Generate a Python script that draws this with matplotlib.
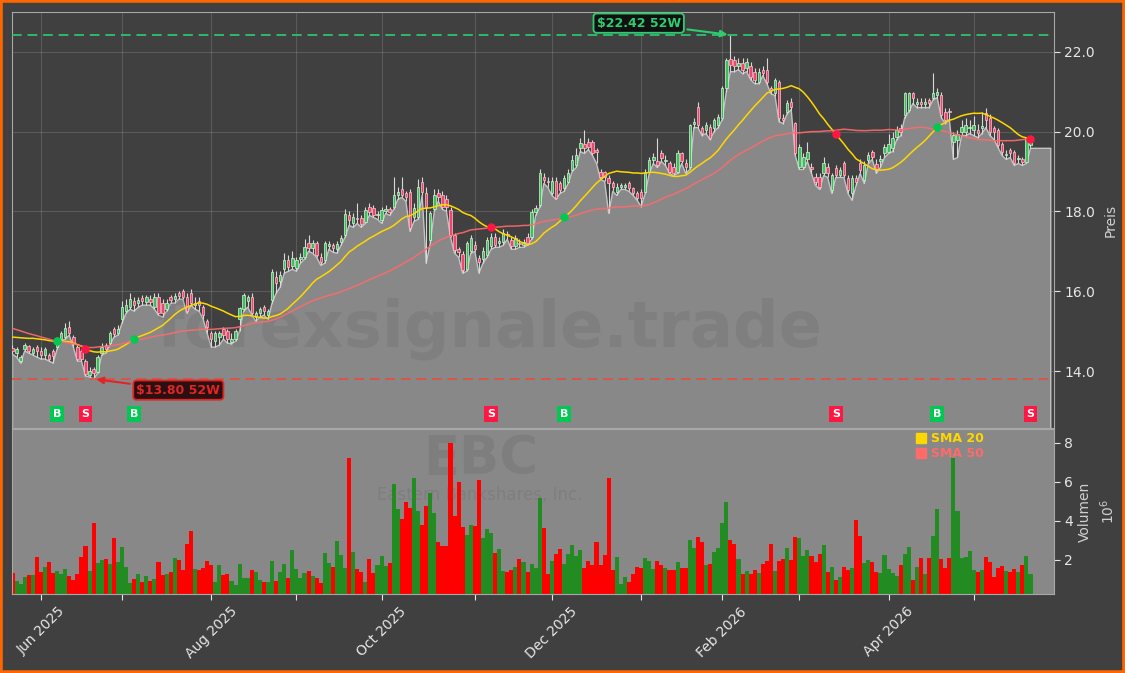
import numpy as np
import pandas as pd
import matplotlib
matplotlib.use("Agg")
import matplotlib.pyplot as plt
from matplotlib.lines import Line2D
from matplotlib.patches import Rectangle
from matplotlib.ticker import MultipleLocator, FuncFormatter
import matplotlib.transforms as mtransforms

# ---------------- data ----------------
ticker = "EBC"
company = "Eastern Bankshares, Inc."
holidays = ["2025-05-26", "2025-06-19", "2025-07-04", "2025-09-01", "2025-11-27",
            "2025-12-25", "2026-01-01", "2026-01-19", "2026-02-16", "2026-04-03"]
dates = pd.bdate_range("2025-05-21", "2026-05-21", freq="C", holidays=holidays)

opens = [
    14.58, 14.45, 14.25, 14.55, 14.62, 14.45, 14.60, 14.50, 14.40, 14.40,
    14.50, 14.60, 14.80, 14.85, 15.10, 14.85, 14.60, 14.50, 14.25, 13.90,
    14.05, 13.98, 14.45, 14.65, 14.70, 15.05, 14.95, 15.30, 15.50, 15.60,
    15.75, 15.70, 15.82, 15.72, 15.80, 15.60, 15.85, 15.70, 15.55, 15.85,
    15.80, 15.95, 16.00, 15.85, 15.95, 15.65, 15.75, 15.60, 15.25, 14.95,
    14.75, 14.85, 15.05, 15.00, 14.72, 14.80, 15.30, 15.55, 15.75, 15.85,
    15.35, 15.45, 15.60, 15.40, 15.78, 16.36, 16.25, 16.55, 16.78, 16.62,
    16.58, 16.80, 16.86, 17.20, 17.07, 17.20, 16.86, 16.78, 17.14, 17.16,
    17.05, 17.24, 17.41, 17.91, 17.70, 17.84, 17.83, 17.74, 18.10, 18.09,
    17.90, 17.78, 18.02, 18.06, 18.12, 18.41, 18.55, 18.45, 18.49, 17.87,
    17.87, 18.74, 18.45, 17.28, 18.05, 18.45, 18.41, 18.30, 18.03, 17.41,
    17.05, 16.93, 16.55, 17.00, 17.16, 16.82, 16.80, 16.91, 17.12, 17.37,
    17.22, 17.24, 17.42, 17.28, 17.12, 17.20, 17.16, 17.37, 17.37, 17.99,
    18.16, 18.87, 18.76, 18.45, 18.77, 18.70, 18.58, 18.74, 19.04, 19.16,
    19.60, 19.70, 19.75, 19.75, 19.54, 18.99, 18.99, 18.83, 18.70, 18.49,
    18.60, 18.62, 18.70, 18.58, 18.45, 18.49, 18.49, 18.99, 19.29, 19.25,
    19.45, 19.25, 19.20, 19.12, 18.99, 19.45, 19.20, 19.12, 20.20, 20.62,
    20.08, 20.04, 20.12, 20.08, 20.16, 20.33, 21.08, 21.83, 21.79, 21.63,
    21.71, 21.60, 21.63, 21.50, 21.25, 21.54, 21.54, 21.08, 20.96, 21.25,
    20.33, 20.50, 20.75, 20.21, 19.12, 19.12, 19.30, 19.10, 18.87, 18.87,
    18.95, 19.12, 18.54, 19.08, 18.91, 19.20, 18.83, 18.45, 18.83, 19.22,
    18.78, 19.29, 19.50, 19.19, 19.25, 19.45, 19.50, 19.58, 19.87, 20.08,
    20.41, 20.54, 20.96, 20.70, 20.72, 20.70, 20.79, 20.85, 20.92, 20.92,
    20.50, 20.50, 19.75, 19.79, 20.00, 20.00, 20.08, 20.04, 20.04, 20.10,
    20.46, 20.33, 20.08, 20.04, 19.70, 19.40, 19.54, 19.50, 19.30, 19.30,
    19.24, 19.66,
]
closes = [
    14.50, 14.55, 14.35, 14.65, 14.50, 14.55, 14.50, 14.40, 14.55, 14.30,
    14.38, 14.78, 14.95, 15.07, 14.95, 14.70, 14.30, 14.30, 13.92, 14.00,
    13.95, 14.35, 14.60, 14.55, 14.95, 14.92, 15.05, 15.60, 15.65, 15.80,
    15.65, 15.78, 15.75, 15.85, 15.72, 15.85, 15.45, 15.45, 15.70, 15.78,
    15.88, 15.88, 15.85, 15.50, 15.70, 15.70, 15.65, 15.40, 15.10, 14.80,
    14.95, 14.95, 14.90, 14.80, 14.80, 15.00, 15.58, 15.90, 15.85, 15.45,
    15.45, 15.55, 15.50, 15.50, 16.49, 16.20, 16.40, 16.78, 16.61, 16.82,
    16.78, 16.86, 17.11, 17.07, 17.20, 16.90, 16.74, 17.20, 17.18, 17.07,
    17.18, 17.33, 17.93, 17.78, 17.85, 17.80, 17.68, 18.03, 17.99, 17.90,
    17.93, 18.03, 18.05, 17.99, 18.41, 18.49, 18.41, 18.37, 17.58, 18.08,
    18.62, 18.49, 18.10, 17.95, 18.40, 18.35, 18.12, 18.10, 17.41, 17.03,
    16.97, 16.53, 17.20, 17.33, 17.05, 16.72, 17.00, 17.28, 17.37, 17.16,
    17.24, 17.45, 17.40, 17.12, 17.33, 17.18, 17.24, 17.20, 17.99, 18.08,
    18.95, 18.79, 18.74, 18.77, 18.33, 18.54, 18.83, 18.95, 19.29, 19.40,
    19.71, 19.60, 19.62, 19.45, 19.50, 18.87, 18.87, 18.70, 18.62, 18.62,
    18.65, 18.66, 18.58, 18.45, 18.33, 18.33, 18.99, 19.29, 19.37, 19.16,
    19.33, 19.27, 18.99, 18.95, 19.45, 19.25, 19.10, 20.16, 20.25, 20.16,
    19.96, 20.16, 19.83, 20.29, 20.37, 21.08, 21.79, 21.67, 21.63, 21.72,
    21.54, 21.75, 21.37, 21.29, 21.50, 21.46, 21.25, 21.04, 21.29, 20.33,
    20.29, 20.71, 20.62, 19.45, 19.62, 19.37, 19.50, 19.05, 18.74, 18.62,
    19.20, 18.95, 18.91, 18.91, 19.04, 18.91, 18.54, 18.83, 18.74, 19.04,
    19.16, 19.41, 19.37, 19.04, 19.30, 19.62, 19.70, 19.83, 20.04, 20.00,
    20.96, 20.97, 20.83, 20.72, 20.70, 20.73, 20.71, 20.96, 21.00, 20.41,
    20.29, 20.48, 19.91, 19.94, 20.12, 20.16, 20.10, 20.16, 19.96, 20.12,
    20.29, 20.00, 20.00, 19.66, 19.50, 19.43, 19.45, 19.20, 19.32, 19.24,
    19.83, 19.79,
]
highs = [
    14.65, 14.60, 14.40, 14.70, 14.65, 14.60, 14.65, 14.60, 14.60, 14.45,
    14.55, 14.85, 15.00, 15.20, 15.25, 14.90, 14.65, 14.55, 14.30, 14.10,
    14.10, 14.40, 14.70, 14.70, 15.00, 15.10, 15.15, 15.75, 15.80, 15.95,
    15.85, 15.85, 15.90, 15.90, 15.90, 15.95, 15.95, 15.80, 15.80, 15.90,
    15.95, 16.00, 16.05, 15.95, 16.05, 15.85, 15.85, 15.65, 15.30, 15.00,
    15.00, 15.00, 15.10, 15.05, 14.95, 15.05, 15.60, 15.95, 15.90, 15.95,
    15.50, 15.60, 15.65, 15.55, 16.55, 16.50, 16.50, 16.95, 16.90, 17.00,
    16.85, 16.95, 17.30, 17.40, 17.28, 17.25, 16.95, 17.25, 17.25, 17.22,
    17.25, 17.40, 18.05, 18.00, 17.95, 18.20, 17.90, 18.10, 18.20, 18.15,
    18.00, 18.10, 18.15, 18.10, 18.87, 18.60, 18.85, 18.50, 18.55, 18.20,
    18.80, 18.85, 18.60, 18.00, 18.55, 18.55, 18.50, 18.40, 18.10, 17.45,
    17.10, 17.00, 17.25, 17.40, 17.25, 16.90, 17.10, 17.35, 17.45, 17.45,
    17.35, 17.55, 17.50, 17.35, 17.40, 17.30, 17.30, 17.45, 18.05, 18.15,
    19.05, 18.95, 18.85, 18.85, 18.85, 18.75, 18.90, 19.05, 19.40, 19.60,
    19.85, 20.04, 19.85, 19.80, 19.60, 19.05, 19.00, 18.90, 18.75, 18.70,
    18.70, 18.72, 18.75, 18.62, 18.50, 18.55, 19.05, 19.35, 19.45, 19.83,
    19.55, 19.40, 19.25, 19.20, 19.55, 19.50, 19.30, 20.20, 20.35, 20.75,
    20.15, 20.25, 20.20, 20.35, 20.45, 21.15, 21.85, 22.42, 21.90, 21.85,
    21.85, 21.85, 21.75, 21.60, 21.60, 21.65, 21.85, 21.15, 21.35, 21.30,
    20.45, 20.80, 20.85, 20.25, 19.70, 19.45, 19.75, 19.20, 18.95, 18.95,
    19.35, 19.20, 18.95, 19.15, 19.10, 19.25, 18.90, 18.90, 18.90, 19.30,
    19.25, 19.50, 19.55, 19.30, 19.40, 19.70, 19.95, 20.00, 20.15, 20.20,
    21.00, 21.00, 21.00, 20.85, 20.85, 20.85, 20.85, 21.47, 21.10, 21.00,
    20.60, 20.60, 20.00, 20.05, 20.30, 20.35, 20.30, 20.40, 20.20, 20.50,
    20.60, 20.45, 20.15, 20.10, 19.75, 19.55, 19.60, 19.55, 19.40, 19.35,
    19.85, 19.85,
]
lows = [
    14.42, 14.35, 14.20, 14.50, 14.45, 14.40, 14.35, 14.30, 14.30, 14.25,
    14.20, 14.55, 14.75, 14.80, 14.90, 14.60, 14.25, 14.25, 13.88, 13.85,
    13.80, 13.95, 14.40, 14.45, 14.65, 14.85, 14.90, 15.20, 15.45, 15.55,
    15.50, 15.60, 15.65, 15.65, 15.65, 15.55, 15.40, 15.35, 15.50, 15.70,
    15.70, 15.80, 15.80, 15.45, 15.65, 15.55, 15.50, 15.30, 14.95, 14.60,
    14.60, 14.65, 14.80, 14.70, 14.68, 14.75, 15.00, 15.50, 15.60, 15.40,
    15.25, 15.35, 15.40, 15.30, 15.70, 15.95, 16.10, 16.45, 16.50, 16.55,
    16.50, 16.70, 16.80, 17.00, 16.95, 16.85, 16.65, 16.70, 17.05, 16.98,
    16.95, 17.15, 17.35, 17.65, 17.60, 17.70, 17.60, 17.70, 17.90, 17.85,
    17.80, 17.70, 17.95, 17.90, 18.05, 18.30, 18.35, 18.25, 17.50, 17.75,
    17.80, 18.40, 16.70, 17.20, 18.00, 18.25, 18.05, 18.00, 17.35, 16.95,
    16.85, 16.45, 16.50, 16.95, 17.00, 16.45, 16.70, 16.85, 17.05, 17.10,
    17.10, 17.15, 17.30, 17.05, 17.05, 17.10, 17.10, 17.15, 17.30, 17.90,
    18.10, 18.70, 18.60, 18.40, 18.30, 18.45, 18.50, 18.70, 19.00, 19.10,
    19.50, 19.45, 19.55, 19.40, 19.20, 18.80, 18.75, 17.95, 18.50, 18.40,
    18.55, 18.55, 18.50, 18.40, 18.28, 18.12, 18.45, 18.95, 19.20, 19.10,
    19.25, 19.15, 18.95, 18.90, 18.95, 19.20, 18.95, 19.05, 20.10, 20.10,
    19.90, 19.95, 19.80, 20.00, 20.10, 20.30, 21.00, 21.50, 21.50, 21.55,
    21.45, 21.50, 21.30, 21.20, 21.20, 21.40, 21.20, 20.95, 20.90, 20.25,
    20.20, 20.45, 20.55, 19.40, 19.05, 19.05, 19.25, 18.95, 18.65, 18.55,
    18.90, 18.85, 18.45, 18.85, 18.85, 18.85, 18.45, 18.28, 18.65, 18.95,
    18.70, 19.20, 19.30, 18.95, 19.10, 19.35, 19.45, 19.50, 19.80, 19.90,
    20.35, 20.50, 20.70, 20.60, 20.60, 20.60, 20.60, 20.80, 20.85, 20.35,
    20.20, 20.30, 19.30, 19.35, 19.90, 19.90, 19.95, 19.90, 19.85, 19.95,
    20.10, 19.90, 19.80, 19.60, 19.40, 19.30, 19.35, 19.15, 19.20, 19.15,
    19.20, 19.58,
]
volumes_m = [
    1.33, 0.91, 0.77, 1.13, 1.23, 1.23, 2.15, 1.37, 1.62, 1.90,
    1.33, 1.42, 1.30, 1.54, 1.16, 0.99, 1.28, 2.15, 2.73, 1.42,
    3.89, 1.84, 2.00, 2.05, 1.81, 3.12, 1.90, 2.66, 1.64, 0.82,
    1.03, 1.28, 0.87, 1.18, 0.91, 1.03, 1.90, 1.25, 1.28, 1.38,
    2.10, 2.00, 1.49, 2.82, 3.48, 1.54, 1.49, 1.59, 1.93, 1.76,
    0.87, 1.74, 1.25, 1.28, 0.94, 0.72, 1.79, 1.08, 1.08, 1.49,
    1.38, 0.97, 0.87, 0.87, 1.93, 0.92, 1.38, 1.79, 1.08, 2.51,
    1.54, 1.08, 1.33, 1.44, 1.18, 1.08, 0.82, 2.36, 1.84, 1.64,
    2.95, 2.25, 1.59, 7.22, 2.41, 1.54, 1.38, 0.87, 2.05, 1.33,
    1.74, 2.20, 1.69, 1.84, 5.89, 4.61, 4.10, 4.97, 4.66, 6.19,
    4.50, 3.79, 4.76, 5.42, 4.40, 2.92, 2.71, 2.71, 7.98, 4.25,
    5.99, 3.69, 3.28, 3.79, 3.74, 6.09, 3.12, 3.58, 3.38, 2.36,
    2.56, 1.44, 1.38, 1.49, 1.64, 2.05, 1.90, 1.38, 1.79, 1.59,
    5.17, 3.64, 1.28, 1.93, 2.30, 2.56, 1.79, 2.30, 2.77, 2.20,
    2.51, 1.59, 1.95, 1.74, 2.92, 1.74, 2.25, 6.19, 1.49, 2.15,
    0.77, 1.13, 0.87, 1.28, 1.64, 1.59, 2.10, 1.95, 1.54, 1.95,
    1.74, 1.59, 1.49, 1.49, 1.90, 1.59, 1.60, 3.00, 2.60, 3.17,
    2.90, 1.75, 1.80, 2.40, 2.60, 3.90, 4.95, 3.00, 2.80, 2.05,
    1.30, 1.45, 1.30, 1.50, 1.35, 1.80, 1.95, 2.80, 1.45, 1.95,
    2.05, 2.60, 2.00, 3.15, 3.10, 2.20, 2.50, 2.20, 1.90, 2.30,
    2.75, 1.40, 1.65, 0.95, 1.15, 1.65, 1.50, 1.60, 4.05, 3.20,
    1.85, 2.00, 1.90, 1.40, 1.35, 2.25, 1.55, 1.35, 1.20, 1.75,
    2.30, 2.65, 0.95, 1.65, 2.10, 1.30, 2.10, 3.20, 4.60, 2.05,
    1.60, 2.10, 7.20, 4.50, 2.10, 2.15, 2.45, 1.50, 1.40, 1.50,
    2.15, 1.90, 1.15, 1.60, 1.70, 1.45, 1.40, 1.55, 1.40, 1.75,
    2.20, 1.30,
]
# closes of the 49 sessions before the window (read from the starting level of the SMA lines)
prior_closes = [
    16.20, 16.10, 16.25, 16.00, 15.90, 15.85, 16.05, 15.80, 15.75, 15.90,
    15.65, 15.90, 15.80, 15.75, 15.60, 15.70, 15.50, 15.45, 14.60, 13.90,
    13.70, 14.10, 14.30, 14.15, 14.40, 14.25, 14.50, 14.35, 14.45, 14.60,
    14.70, 14.55, 14.80, 14.65, 14.50, 14.75, 14.60, 14.85, 14.70, 14.65,
    14.75, 15.00, 15.20, 15.15, 15.30, 15.10, 15.05, 15.20, 15.00,
]
buy_idx = [11, 30, 136, 228]
sell_idx = [18, 118, 203, 251]

N = len(closes)
assert len(opens) == N and len(highs) == N and len(lows) == N and len(volumes_m) == N == len(dates)

o = np.array(opens); c = np.array(closes); h = np.array(highs); l = np.array(lows)
v = np.array(volumes_m)
x = np.arange(N)

full = pd.Series(prior_closes + closes)
sma20 = full.rolling(20).mean().to_numpy()[len(prior_closes):]
sma50 = full.rolling(50).mean().to_numpy()[len(prior_closes):]

high_52w = h.max(); hi_i = int(h.argmax())
low_52w = l.min(); lo_i = int(l.argmin())

# ---------------- style ----------------
BG = "#404040"
FILLC = "#888888"
TXT = "#e6e6e6"
UP_FACE, UP_EDGE = "#3fbf5c", "#d6f5da"
DN_FACE, DN_EDGE = "#f0466a", "#ffc4d0"
GOLD = "#FFD700"
SMA50C = "#FF6B6B"

fig = plt.figure(figsize=(11.25, 6.73), dpi=100, facecolor=BG)
ax = fig.add_axes([0.0111, 0.364, 0.9258, 0.6177])
axv = fig.add_axes([0.0111, 0.1174, 0.9258, 0.2452])
ax.set_facecolor(BG)
axv.set_facecolor(FILLC)

xmax = N + 4.8
ax.set_xlim(0, xmax)
axv.set_xlim(0, xmax)
ax.set_ylim(low_52w * 0.911, high_52w * 1.0253)
axv.set_ylim(0.26, v.max() * 1.09)

# month ticks
month_first = [i for i in range(1, N) if dates[i].month != dates[i - 1].month]
labels = [dates[i].strftime("%b %Y") if dates[i].month % 2 == 0 else "" for i in month_first]

# grey area under lows (extended to the right)
xf = np.append(x, N + 4).astype(float)
lf = np.append(l, l[-1])
ax.fill_between(xf, lf, 0, facecolor=FILLC, edgecolor="#c4c4c4", linewidth=1.0, zorder=2)

# watermark
ax.text(0.458, 0.24, "forexsignale.trade", transform=ax.transAxes, ha="center", va="center",
        fontsize=46, fontweight="bold", color="#3a3a3a", alpha=0.11, zorder=2.5)

# candles
up = c >= o
ax.vlines(x, l, h, color="#d8d8d8", linewidth=0.8, zorder=3)
body_lo = np.minimum(o, c)
body_h = np.maximum(np.abs(c - o), 0.03)
ax.bar(x, body_h, bottom=body_lo, width=0.6,
       color=np.where(up, UP_FACE, DN_FACE), edgecolor=np.where(up, UP_EDGE, DN_EDGE),
       linewidth=0.5, zorder=4)

# SMAs
ax.plot(x, sma20, color=GOLD, linewidth=1.1, zorder=5)
ax.plot(x, sma50, color=SMA50C, linewidth=1.1, alpha=0.9, zorder=5)
ax.scatter(buy_idx, sma20[buy_idx], s=26, color="#00C853", zorder=6)
ax.scatter(sell_idx, sma20[sell_idx], s=26, color="#FF1744", zorder=6)

# B / S labels
trans = mtransforms.blended_transform_factory(ax.transData, ax.transAxes)
for i in buy_idx:
    ax.text(i, 0.034, "B", transform=trans, ha="center", va="center", color="white",
            fontsize=8, fontweight="bold", zorder=7,
            bbox=dict(boxstyle="square,pad=0.25", fc="#00C853", ec="none"))
for i in sell_idx:
    ax.text(i, 0.034, "S", transform=trans, ha="center", va="center", color="white",
            fontsize=8, fontweight="bold", zorder=7,
            bbox=dict(boxstyle="square,pad=0.25", fc="#FF1744", ec="none"))

# 52 week lines + annotations
ax.axhline(high_52w, color="#2ecc71", linestyle=(0, (5, 3)), linewidth=1.4, alpha=0.85, zorder=3)
ax.axhline(low_52w, color="#e74c3c", linestyle=(0, (5, 3)), linewidth=1.4, alpha=0.85, zorder=3)
ax.annotate(f"${high_52w:.2f} 52W", xy=(hi_i, high_52w), xytext=(-66, 8.5),
            textcoords="offset points", ha="center", va="center", color="#2ecc71",
            fontsize=9, fontweight="bold", zorder=8,
            bbox=dict(boxstyle="round,pad=0.25", fc="#111111", ec="#2ecc71", lw=1.3),
            arrowprops=dict(arrowstyle="-|>", color="#2ecc71", lw=1.5, mutation_scale=10))
ax.annotate(f"${low_52w:.2f} 52W", xy=(lo_i, low_52w), xytext=(61, -8),
            textcoords="offset points", ha="center", va="center", color="#e02525",
            fontsize=9, fontweight="bold", zorder=8,
            bbox=dict(boxstyle="round,pad=0.25", fc="#2a1010", ec="#e02525", lw=1.3),
            arrowprops=dict(arrowstyle="-|>", color="#e02525", lw=1.5, mutation_scale=10))

# price axis styling
ax.set_xticks(month_first)
ax.tick_params(axis="x", length=0, labelbottom=False)
ax.grid(True, color="#ffffff", alpha=0.14, linewidth=0.8, zorder=0)
ax.set_axisbelow(True)
ax.yaxis.tick_right()
ax.yaxis.set_label_position("right")
ax.yaxis.set_major_locator(MultipleLocator(2))
ax.yaxis.set_major_formatter(FuncFormatter(lambda val, p: f"{val:.1f}"))
ax.tick_params(axis="y", colors=TXT, labelsize=10, length=4)
ax.set_ylabel("Preis", color="#d0d0d0", fontsize=10, labelpad=6)
for sp in ax.spines.values():
    sp.set_color("#a8a8a8"); sp.set_linewidth(0.8)

# volume panel
axv.text(0.449, 0.82, ticker, transform=axv.transAxes, ha="center", va="center",
         fontsize=38, fontweight="bold", color="#3a3a3a", alpha=0.12, zorder=0.5)
axv.text(0.449, 0.60, company, transform=axv.transAxes, ha="center", va="center",
         fontsize=12, color="#3a3a3a", alpha=0.12, zorder=0.5)
axv.bar(x, v, width=1.0, color=np.where(up, "#228B22", "#FF0000"), linewidth=0, zorder=2)
axv.set_xticks(month_first)
axv.set_xticklabels(labels, rotation=45, ha="center", fontsize=10, color=TXT)
axv.tick_params(axis="x", colors=TXT, length=4)
axv.yaxis.tick_right()
axv.yaxis.set_label_position("right")
axv.yaxis.set_major_locator(MultipleLocator(2))
axv.yaxis.set_major_formatter(FuncFormatter(lambda val, p: f"{val:.0f}"))
axv.tick_params(axis="y", colors=TXT, labelsize=10, length=4)
axv.set_ylabel("Volumen", color="#d0d0d0", fontsize=10, labelpad=3)
axv.text(1.052, 0.5, "$10^6$", transform=axv.transAxes, rotation=90, ha="center",
         va="center", color="#d0d0d0", fontsize=10)
for sp in axv.spines.values():
    sp.set_color("#a8a8a8"); sp.set_linewidth(0.8)

handles = [Line2D([], [], marker="s", linestyle="", color=GOLD, markersize=7),
           Line2D([], [], marker="s", linestyle="", color=SMA50C, markersize=7)]
leg = axv.legend(handles, ["SMA 20", "SMA 50"], loc="upper right", bbox_to_anchor=(0.943, 1.05),
                 frameon=False, handlelength=0.8, handletextpad=0.4, labelspacing=0.2,
                 prop=dict(size=9, weight="bold"), labelcolor=[GOLD, SMA50C])

# orange frame
fig.patches.append(Rectangle((0, 0), 1, 1, transform=fig.transFigure, fill=False,
                             edgecolor="#ff6600", linewidth=4, zorder=10))

fig.savefig("out.png", dpi=100, facecolor=BG)
